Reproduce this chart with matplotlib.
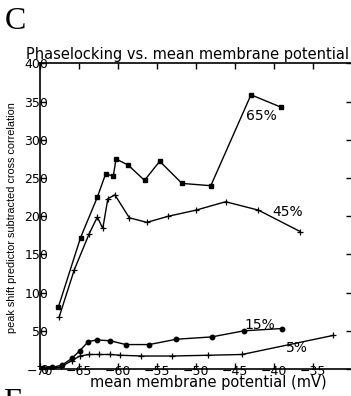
import matplotlib
matplotlib.use("Agg")
import matplotlib.pyplot as plt

# Mean membrane potential (mV) and phase-locking strength for each stimulus level
v_65 = [-67.65, -64.8, -62.65, -61.6, -60.6, -60.25, -58.7, -56.6, -54.65, -51.8, -48.1, -42.95, -39.15]
pl_65 = [81, 172, 225, 255, 253, 275, 267, 247, 272, 243, 240, 359, 343]

v_45 = [-67.55, -65.6, -63.7, -62.65, -61.95, -61.3, -60.4, -58.55, -56.3, -53.55, -50.0, -46.2, -42.0, -36.65]
pl_45 = [68, 130, 177, 199, 184, 223, 228, 198, 192, 200, 208, 219, 208, 180]

v_15 = [-69.6, -68.5, -67.2, -65.9, -64.9, -63.8, -62.7, -61.0, -59.0, -56.0, -52.5, -48.0, -43.85, -39.0]
pl_15 = [1, 2, 5, 14, 24, 36, 38, 37, 32, 32, 39, 42, 50, 53]

v_5 = [-69.6, -68.3, -67.3, -65.9, -64.9, -63.7, -62.4, -61.0, -59.7, -57.0, -53.1, -48.4, -44.1, -32.4]
pl_5 = [0, 1, 3, 11, 17, 19, 19, 19, 18, 17, 17, 18, 19, 44]

series_labels = ["65%", "45%", "15%", "5%"]
label_pos = [(-41.6, 331), (-38.3, 205), (-41.8, 58), (-37.1, 27)]

x_ticks = [-70, -65, -60, -55, -50, -45, -40, -35]
y_ticks = [0, 50, 100, 150, 200, 250, 300, 350, 400]

W, H = 351, 396
fig = plt.figure(figsize=(W / 100, H / 100), dpi=100)
fig.patch.set_facecolor("white")


def fx(px):
    return px / W


def fy(py):
    return 1 - py / H


ax = fig.add_axes([fx(40), fy(369), 312 / W, (369 - 63.5) / H])
ax.set_xlim(-70, -30)
ax.set_ylim(0, 400)

line_kw = dict(color="black", lw=1.0)
ax.plot(v_65, pl_65, marker="s", ms=3, **line_kw)
ax.plot(v_45, pl_45, marker="+", ms=4, mew=0.9, **line_kw)
ax.plot(v_15, pl_15, marker="o", ms=3.2, **line_kw)
ax.plot(v_5, pl_5, marker="+", ms=4, mew=0.9, **line_kw)

for txt, (lx, ly) in zip(series_labels, label_pos):
    ax.text(lx, ly, txt, ha="center", va="center", fontsize=10,
            family="DejaVu Sans", color="black")

ax.set_xticks(x_ticks)
ax.set_xticklabels([f"\u2212{abs(t)}" for t in x_ticks])
ax.set_yticks(y_ticks)
ax.set_yticklabels([str(t) for t in y_ticks])
ax.tick_params(direction="in", top=True, right=True, length=4, width=1,
               labelsize=9, colors="black")
ax.tick_params(axis="x", pad=-2.6)
ax.tick_params(axis="y", pad=-6.0)
for lab in ax.get_xticklabels() + ax.get_yticklabels():
    lab.set_family("DejaVu Sans")
for sp in ax.spines.values():
    sp.set_linewidth(1.2)
    sp.set_color("black")

fig.text(fx(187.5), fy(59), "Phaselocking vs. mean membrane potential",
         ha="center", va="baseline", fontsize=10.5, family="DejaVu Sans")
fig.text(fx(208.5), fy(383), "mean membrane potential (mV)",
         ha="center", va="center", fontsize=10.5, family="DejaVu Sans")
fig.text(fx(12), fy(218), "peak shift predictor subtracted cross correlation",
         ha="center", va="center", rotation=90, fontsize=7.8,
         family="Liberation Sans")

fig.text(fx(5), fy(7), "C", ha="left", va="top", fontsize=23,
         family="Liberation Serif")
fig.text(fx(3), fy(388), "E", ha="left", va="top", fontsize=23,
         family="Liberation Serif")

fig.savefig("out.png", dpi=100, facecolor="white")
